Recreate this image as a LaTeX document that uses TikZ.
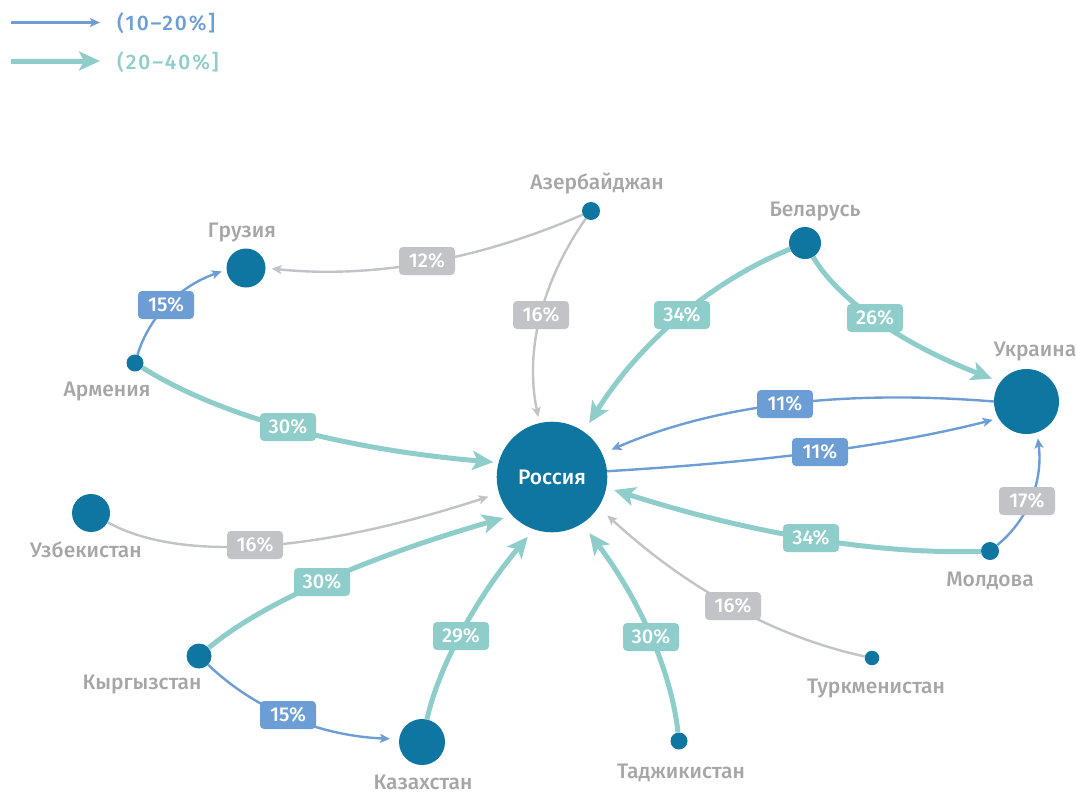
\documentclass[tikz,border=0pt]{standalone}
\usepackage{fontspec}
\setmainfont{Fira Sans}[UprightFont={* Medium}]
\newfontfamily\legfont{Fira Sans}[UprightFont={* Medium},LetterSpace=9]
\usetikzlibrary{arrows.meta}
\definecolor{ndark}{HTML}{0E76A0}
\definecolor{tealc}{HTML}{8ECDCA}
\definecolor{bluec}{HTML}{6C9ED5}
\definecolor{greyc}{HTML}{C2C3C7}
\definecolor{greytxt}{HTML}{A6A6A6}
\begin{document}
\begin{tikzpicture}[x=1pt,y=-1pt,
  dot/.style={circle,fill=ndark,inner sep=0pt,minimum size=#1},
  thinarr/.style={line width=2.4pt,-{Stealth[length=10pt,width=9pt,inset=2.5pt]}},
  thickarr/.style={line width=5pt,-{Stealth[length=21pt,width=19pt,inset=5pt]}},
  bl/.style={thinarr,draw=bluec},
  gr/.style={thinarr,draw=greyc},
  tl/.style={thickarr,draw=tealc},
  pct/.style={fill=#1,text=white,rounded corners=4pt,minimum width=56pt,minimum height=28pt,inner sep=0pt,font=\fontsize{20}{20}\selectfont},
  cname/.style={text=greytxt,anchor=base,inner sep=0pt,font=\fontsize{21}{21}\selectfont},
  legtxt/.style={anchor=base west,inner sep=0pt,font=\legfont\fontsize{21}{21}\selectfont}
]
\useasboundingbox (0,0) rectangle (1076,793);

% legend
\coordinate (l1s) at (11,22.5);
\coordinate (l1e) at (100,22.5);
\coordinate (l2s) at (11,61);
\coordinate (l2e) at (100,61);
\draw[bl] (l1s) -- (l1e);
\draw[tl] (l2s) -- (l2e);
\node[legtxt,text=bluec] (lt1) at (117,30) {(10–20\%]};
\node[legtxt,text=tealc] (lt2) at (117,69) {(20–40\%]};

% countries
\node[dot=110.6pt,text=white,font=\fontsize{21}{21}\selectfont,text depth=0pt] (ru) at (552,477) {Россия};
\node[dot=65pt] (ua) at (1026.5,401.5) {};
\node[dot=32pt] (by) at (805,243) {};
\node[dot=18pt] (az) at (591,211) {};
\node[dot=39pt] (ge) at (246,268) {};
\node[dot=17pt] (am) at (135,363) {};
\node[dot=38pt] (uz) at (91,513) {};
\node[dot=25pt] (kg) at (199,656) {};
\node[dot=46pt] (kz) at (422,742) {};
\node[dot=17pt] (tj) at (679,741) {};
\node[dot=14.5pt] (tm) at (872,658) {};
\node[dot=18pt] (md) at (990,551) {};

% names
\node[cname] (naz) at (597,189) {Азербайджан};
\node[cname] (nby) at (815,216) {Беларусь};
\node[cname] (nge) at (242,237) {Грузия};
\node[cname] (nam) at (107,396) {Армения};
\node[cname] (nua) at (1035,356) {Украина};
\node[cname] (nuz) at (86,557) {Узбекистан};
\node[cname] (nmd) at (990,586) {Молдова};
\node[cname] (nkg) at (142,689) {Кыргызстан};
\node[cname] (ntm) at (876,693) {Туркменистан};
\node[cname] (nkz) at (423,789.5) {Казахстан};
\node[cname] (ntj) at (681,778) {Таджикистан};

% connectors
\draw[gr,shorten >=6pt] (az) .. controls (478.7,260) and (372.3,279) .. (ge.0);
\draw[gr,shorten >=6pt] (az) .. controls (542.3,281) and (524.3,349.7) .. (ru.103);
\draw[tl,shorten >=10pt] (by) .. controls (713.3,280.3) and (641,340.7) .. (ru.55);
\draw[tl,shorten >=9pt] (by) .. controls (837,298) and (899.7,343.3) .. (ua.143);
\draw[bl,shorten >=5pt] (am) .. controls (148.7,318) and (177.7,287) .. (ge.185);
\draw[tl,shorten >=5pt] (am) .. controls (219.7,416) and (339,448.7) .. (ru.165);
\draw[bl,shorten >=10pt] (ua.180) .. controls (843.3,389.3) and (715.7,404.7) .. (ru.25);
\draw[bl,shorten >=6pt] (ru.6) .. controls (762.3,462) and (891,446) .. (ua.211);
\draw[bl,shorten >=6pt] (md) .. controls (1027,520.7) and (1043.3,483) .. (ua.-71);
\draw[tl,shorten >=8pt] (md) .. controls (877,554.7) and (751.3,533.7) .. (ru.-11);
\draw[gr,shorten >=11pt] (uz) .. controls (177.3,561) and (309.7,555) .. (ru.-163);
\draw[tl,shorten >=9pt] (kg) .. controls (261,604) and (363.3,558.3) .. (ru.-136);
\draw[bl,shorten >=9pt] (kg) .. controls (254,708.7) and (318,735.7) .. (kz.173);
\draw[tl,shorten >=9.5pt] (kz) .. controls (438,669) and (474,600.7) .. (ru.-109);
\draw[tl,shorten >=12pt] (tj) .. controls (671,670.7) and (640.3,601) .. (ru.-57);
\draw[gr,shorten >=12pt] (tm) .. controls (775,637) and (687,588.7) .. (ru.-33.5);

% percentages
\node[pct=greyc] (p1) at (427,261) {12\%};
\node[pct=greyc] (p2) at (541,315) {16\%};
\node[pct=tealc] (p3) at (682,315) {34\%};
\node[pct=tealc] (p4) at (875,318) {26\%};
\node[pct=bluec] (p5) at (166,305) {15\%};
\node[pct=tealc] (p6) at (288,427) {30\%};
\node[pct=bluec] (p7) at (785,404) {11\%};
\node[pct=bluec] (p8) at (820,452) {11\%};
\node[pct=greyc] (p9) at (1027,501) {17\%};
\node[pct=tealc] (p10) at (811,538) {34\%};
\node[pct=greyc] (p11) at (255,545) {16\%};
\node[pct=tealc] (p12) at (322,582) {30\%};
\node[pct=greyc] (p13) at (733,606) {16\%};
\node[pct=tealc] (p14) at (461,636) {29\%};
\node[pct=tealc] (p15) at (651,637) {30\%};
\node[pct=bluec] (p16) at (288,715) {15\%};
\end{tikzpicture}
\end{document}
